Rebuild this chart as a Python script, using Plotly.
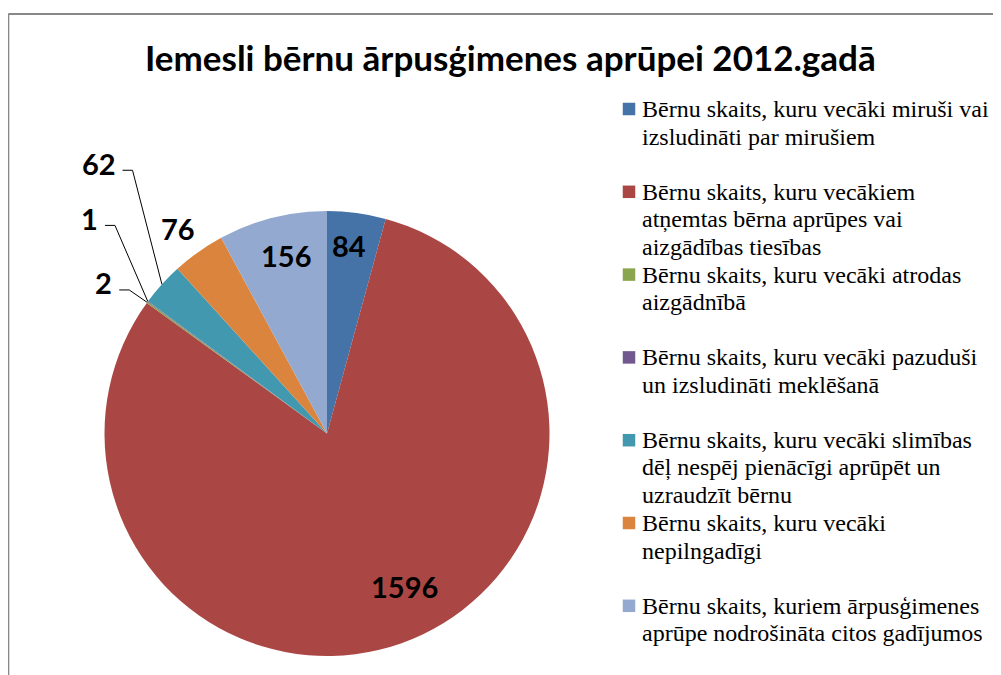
import math
import plotly.graph_objects as go

# ---- data ----
labels = [
    ["Bērnu skaits, kuru vecāki miruši vai", "izsludināti par mirušiem"],
    ["Bērnu skaits, kuru vecākiem", "atņemtas bērna aprūpes vai", "aizgādības tiesības"],
    ["Bērnu skaits, kuru vecāki atrodas", "aizgādnībā"],
    ["Bērnu skaits, kuru vecāki pazuduši", "un izsludināti meklēšanā"],
    ["Bērnu skaits, kuru vecāki slimības", "dēļ nespēj pienācīgi aprūpēt un", "uzraudzīt bērnu"],
    ["Bērnu skaits, kuru vecāki", "nepilngadīgi"],
    ["Bērnu skaits, kuriem ārpusģimenes", "aprūpe nodrošināta citos gadījumos"],
]
values = [84, 1596, 2, 1, 62, 76, 156]
colors = ["#4572A7", "#AA4643", "#89A54E", "#71588F", "#4198AF", "#DB843D", "#93A9CF"]
title_text = "Iemesli bērnu ārpusģimenes aprūpei 2012.gadā"

# ---- layout constants (screen pixels; page body has an 8px margin) ----
OFF = 8
FW, FH = 1001 - OFF, 675 - OFF
CX, CY, R = 327, 433.5, 222.5
# data-label placement: (radius fraction, angle offset deg, leader line?)
label_place = [
    (0.85, -1.0, False),
    (0.77, -7.4, False),
    (1.21, -2.1, True),
    (1.44, 5.8, True),
    (1.59, 7.7, True),
    (1.14, -0.7, False),
    (0.82, 1.3, False),
]
LABEL_SIZE = 29
LEG_SQ_X, LEG_SQ = 629, 12.5
LEG_TX = 640
LEG_Y0, LEG_PITCH, LEG_SLOTS = 109, 27.6, 3
LEG_SIZE = 24


def px(x):
    return (x - OFF) / FW


def py(y):
    return 1 - (y - OFF) / FH


full_labels = ["<br>".join(l) for l in labels]

fig = go.Figure()
fig.add_trace(go.Pie(
    labels=full_labels,
    values=values,
    sort=False,
    direction="clockwise",
    rotation=0,
    marker=dict(colors=colors, line=dict(width=0)),
    textinfo="none",
    hoverinfo="label+value",
    domain=dict(x=[px(CX - R), px(CX + R)], y=[py(CY + R), py(CY - R)]),
    showlegend=False,
))

total = sum(values)
annotations = []
shapes = []
cum = 0
for i, v in enumerate(values):
    start = cum / total * 360
    cum += v
    end = cum / total * 360
    mid = (start + end) / 2
    rf, dth, leader = label_place[i]
    a = math.radians(mid + dth)
    lx = CX + R * rf * math.sin(a)
    ly = CY - R * rf * math.cos(a)
    annotations.append(dict(
        x=px(lx), y=py(ly), xref="paper", yref="paper",
        text=f"<b>{v}</b>", showarrow=False,
        xanchor="center", yanchor="middle",
        font=dict(family="Lato", size=LABEL_SIZE, color="#000000"),
    ))
    if leader:
        am = math.radians(mid)
        ex = CX + R * math.sin(am)
        ey = CY - R * math.cos(am)
        half = 0.29 * LABEL_SIZE * len(str(v))
        sx = lx + half + 7
        sy = ly + 7
        shapes.append(dict(
            type="path", xref="paper", yref="paper",
            path=f"M {px(sx)} {py(sy)} L {px(sx + 10)} {py(sy)} L {px(ex)} {py(ey)}",
            line=dict(color="#000000", width=1),
        ))

# legend (built from labels and colors)
slot = 0
for i, lines in enumerate(labels):
    y_first = LEG_Y0 + LEG_PITCH * slot
    shapes.append(dict(
        type="rect", xref="paper", yref="paper",
        x0=px(LEG_SQ_X - LEG_SQ / 2), x1=px(LEG_SQ_X + LEG_SQ / 2),
        y0=py(y_first - LEG_SQ / 2), y1=py(y_first + LEG_SQ / 2),
        fillcolor=colors[i], line=dict(width=0),
    ))
    for k, line in enumerate(lines):
        annotations.append(dict(
            x=px(LEG_TX), y=py(y_first + LEG_PITCH * k), xref="paper", yref="paper",
            text=line, showarrow=False, xanchor="left", yanchor="middle",
            font=dict(family="Liberation Serif, Times New Roman, serif", size=LEG_SIZE, color="#000000"),
        ))
    slot += max(LEG_SLOTS, len(lines))

# title
annotations.append(dict(
    x=px(510), y=py(57), xref="paper", yref="paper",
    text=f"<b>{title_text}</b>", showarrow=False,
    xanchor="center", yanchor="middle",
    font=dict(family="Lato", size=35, color="#000000"),
))

# chart-area frame (left and top edges visible)
shapes.append(dict(type="line", xref="paper", yref="paper",
                   x0=px(8.3), x1=px(8.3), y0=py(14), y1=0,
                   line=dict(color="#888888", width=2)))
shapes.append(dict(type="line", xref="paper", yref="paper",
                   x0=px(8.3), x1=1, y0=py(14), y1=py(14),
                   line=dict(color="#888888", width=2)))

fig.update_layout(
    width=FW, height=FH,
    margin=dict(l=0, r=0, t=0, b=0),
    paper_bgcolor="#ffffff",
    plot_bgcolor="#ffffff",
    showlegend=False,
    annotations=annotations,
    shapes=shapes,
)

fig.write_html("out.html")
